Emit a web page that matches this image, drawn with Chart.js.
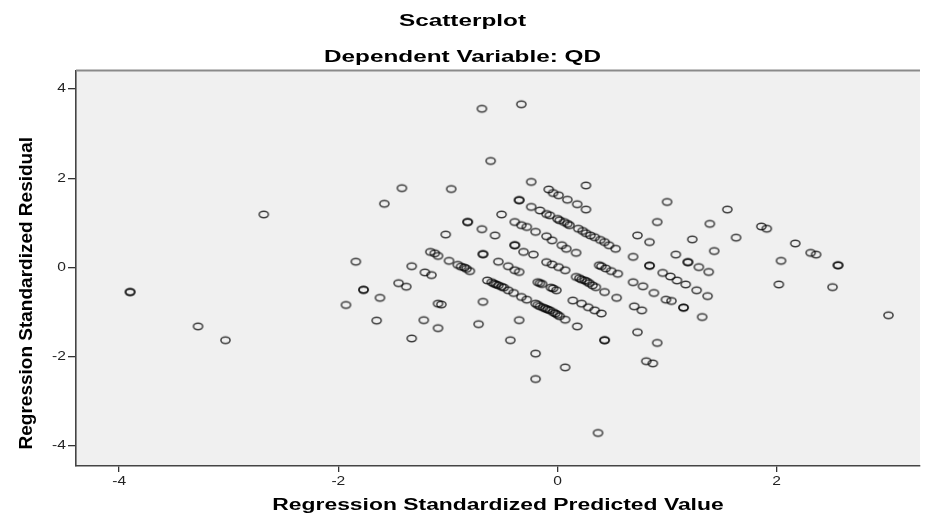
<!DOCTYPE html>
<html>
<head>
<meta charset="utf-8">
<script src="https://cdn.jsdelivr.net/npm/chart.js@4.4.1/dist/chart.umd.min.js"></script>
<style>
html,body{margin:0;padding:0;background:#ffffff;}
canvas{display:block;}
</style>
</head>
<body>
<canvas id="c" width="925" height="514"></canvas>
<script>
// ---- texts ----
const chartTitle = 'Scatterplot';
const chartSubtitle = 'Dependent Variable: QD';
const xAxisTitle = 'Regression Standardized Predicted Value';
const yAxisTitle = 'Regression Standardized Residual';

// ---- tick labels / axis ranges ----
const xTickValues = [-4, -2, 0, 2];
const yTickValues = [-4, -2, 0, 2, 4];
const xRange = [-4.394, 3.308];
const yRange = [-4.45, 4.42];

// ---- data: standardized predicted value (x) and standardized residual (y) ----
const predictedValues = [
  -3.90,-3.90,-3.28,-3.03,-2.68,-1.93,-1.84,-1.77,-1.77,-1.65,-1.62,-1.58,-1.42,
  -1.45,-1.38,-1.33,-1.33,-1.22,-1.21,-1.15,-1.09,-1.06,-1.09,-1.02,-0.97,
  -1.16,-1.12,-1.09,-0.99,-0.91,-0.88,-0.85,-0.83,-0.80,
  -0.82,-0.82,-0.69,-0.33,-0.61,-0.69,-0.57,-0.51,-0.68,-0.68,
  -0.54,-0.45,-0.39,-0.35,-0.31,-0.22,-0.39,-0.39,
  -0.68,-0.72,-0.35,-0.43,-0.20,-0.20,-0.18,
  -0.64,-0.60,-0.58,-0.56,-0.54,-0.51,-0.49,-0.45,-0.40,-0.33,-0.28,-0.20,-0.18,-0.16,-0.13,-0.11,-0.09,-0.07,-0.04,-0.02,0.00,0.02,0.07,
  -0.24,-0.35,-0.35,0.26,
  -0.08,-0.04,0.01,0.09,0.18,0.26,
  -0.24,-0.16,-0.10,-0.07,0.00,0.02,0.06,0.09,0.11,0.19,0.23,0.26,0.30,0.34,0.39,0.43,0.47,0.53,
  -0.39,-0.33,-0.28,-0.20,-0.10,-0.05,0.04,0.08,0.17,
  -0.10,-0.05,0.01,0.07,-0.16,-0.14,-0.06,-0.04,-0.01,
  0.17,0.20,0.22,0.25,0.27,0.29,0.32,0.35,0.43,0.54,
  0.14,0.22,0.28,0.34,0.40,0.18,0.07,0.37,0.43,0.43,
  0.38,0.40,0.44,0.49,0.55,0.69,0.84,0.84,
  0.73,0.84,0.91,1.00,0.69,0.78,0.88,0.70,0.77,
  0.73,0.91,0.81,0.87,0.96,1.03,1.09,1.17,0.99,1.04,
  1.15,1.15,1.08,1.19,1.19,1.29,1.38,1.43,1.23,1.39,
  1.27,1.37,1.32,1.55,1.63,1.86,1.91,2.17,2.04,
  2.31,2.36,2.56,2.56,2.02,2.51,3.02
];
const residualValues = [
  -0.55,-0.55,-1.32,-1.63,1.19,-0.84,0.13,-0.50,-0.50,-1.19,-0.68,1.43,1.78,
  -0.35,-0.43,0.03,-1.59,-1.18,-0.11,-0.17,-0.81,-0.83,-1.36,0.74,1.76,
  0.35,0.32,0.26,0.15,0.06,0.02,0.00,-0.03,-0.08,
  1.02,1.02,3.56,3.66,2.39,0.86,0.72,1.19,0.30,0.30,
  0.13,0.03,-0.06,-0.10,0.35,0.29,0.50,0.50,
  -0.77,-1.27,-1.18,-1.63,-1.93,-2.50,-0.33,
  -0.29,-0.33,-0.36,-0.38,-0.40,-0.43,-0.45,-0.51,-0.57,-0.66,-0.72,-0.81,-0.84,-0.87,-0.90,-0.92,-0.94,-0.96,-1.00,-1.03,-1.06,-1.09,-1.17,
  1.92,1.51,1.51,1.84,
  1.75,1.67,1.62,1.52,1.42,1.30,
  1.36,1.28,1.20,1.17,1.09,1.06,1.02,0.98,0.95,0.87,0.82,0.77,0.72,0.68,0.62,0.57,0.50,0.42,
  1.02,0.95,0.91,0.80,0.70,0.61,0.50,0.42,0.33,
  0.12,0.07,0.01,-0.06,-0.35,-0.37,-0.45,-0.47,-0.51,
  -0.21,-0.24,-0.27,-0.29,-0.32,-0.35,-0.40,-0.44,-0.55,-0.68,
  -0.74,-0.81,-0.89,-0.96,-1.03,-1.32,-2.24,-3.71,-1.63,-1.63,
  0.05,0.03,-0.02,-0.08,-0.14,0.24,0.04,0.04,
  0.72,0.57,1.02,1.47,-0.33,-0.42,-0.57,-0.87,-0.96,
  -1.45,-1.69,-2.10,-2.15,-0.12,-0.20,-0.29,-0.38,-0.72,-0.75,
  -0.90,-0.90,0.29,0.12,0.12,0.01,-0.10,0.37,0.63,0.98,
  -0.51,-0.64,-1.11,1.30,0.67,0.92,0.87,0.54,0.15,
  0.33,0.29,0.05,0.05,-0.38,-0.44,-1.07
];

// ---- styling ----
const FONT = "'Liberation Sans', Arial, Helvetica, sans-serif";

function makeMarker() {
  const c = document.createElement('canvas');
  c.width = 15; c.height = 11;
  const g = c.getContext('2d');
  g.strokeStyle = 'rgba(0,0,0,0.75)';
  g.lineWidth = 1.5;
  g.beginPath();
  g.ellipse(7.5, 5.5, 4.6, 3.2, 0, 0, Math.PI * 2);
  g.stroke();
  return c;
}

// The reference picture is horizontally stretched: reproduce that on the text glyphs.
function stretchFor(text) {
  if (text === chartTitle || text === chartSubtitle || text === xAxisTitle) return 1.43;
  return 1.3;
}

const textStretchPlugin = {
  id: 'textStretch',
  beforeInit(chart) {
    const ctx = chart.ctx;
    const base = CanvasRenderingContext2D.prototype.fillText;
    ctx.fillText = function (text, x, y) {
      this.save();
      if (text === yAxisTitle) {
        this.translate(x - 25, y);
        this.scale(1, 0.93);
      } else {
        this.translate(x, y);
        this.scale(stretchFor(text), 1);
      }
      base.call(this, text, 0, 0);
      this.restore();
    };
  }
};

const plotFrame = {
  id: 'plotFrame',
  beforeDraw(chart) {
    const { ctx, chartArea: a } = chart;
    ctx.save();
    ctx.fillStyle = '#f0f0f0';
    ctx.fillRect(a.left, a.top, a.right - a.left, a.bottom - a.top);
    ctx.restore();
  },
  afterDraw(chart) {
    const { ctx, chartArea: a } = chart;
    ctx.save();
    ctx.strokeStyle = '#8a8a8a';
    ctx.lineWidth = 2;
    ctx.beginPath();
    ctx.moveTo(a.left, a.top);
    ctx.lineTo(a.right, a.top);
    ctx.stroke();
    ctx.restore();
  }
};

const points = predictedValues.map((x, i) => ({ x: x, y: residualValues[i] }));

new Chart(document.getElementById('c'), {
  type: 'scatter',
  data: {
    datasets: [{
      data: points,
      pointStyle: makeMarker(),
      pointRadius: 5,
      borderWidth: 0
    }]
  },
  options: {
    responsive: false,
    animation: false,
    events: [],
    layout: { padding: { left: 0, right: 0, top: 0, bottom: 0 } },
    plugins: {
      legend: { display: false },
      tooltip: { enabled: false },
      title: {
        display: true,
        text: chartTitle,
        color: '#000',
        font: { family: FONT, size: 17, weight: 'bold', lineHeight: 1.2 },
        padding: { top: 11, bottom: 8 }
      },
      subtitle: {
        display: true,
        text: chartSubtitle,
        color: '#000',
        font: { family: FONT, size: 17, weight: 'bold', lineHeight: 1.2 },
        padding: { top: 8, bottom: 2.6 }
      }
    },
    scales: {
      x: {
        type: 'linear',
        position: 'bottom',
        min: xRange[0],
        max: xRange[1],
        afterBuildTicks: (axis) => { axis.ticks = xTickValues.map(v => ({ value: v })); },
        ticks: {
          includeBounds: false,
          color: '#222',
          font: { family: FONT, size: 12, lineHeight: 1.2 },
          padding: 2,
          callback: (v) => String(v)
        },
        grid: { drawOnChartArea: false, drawTicks: true, tickLength: 6, color: '#333', lineWidth: 1.3 },
        border: { display: true, color: '#444', width: 1.6 },
        title: {
          display: true,
          text: xAxisTitle,
          color: '#000',
          font: { family: FONT, size: 16, weight: 'bold', lineHeight: 1 },
          padding: { top: 7.6, bottom: 0 }
        }
      },
      y: {
        type: 'linear',
        position: 'left',
        min: yRange[0],
        max: yRange[1],
        afterBuildTicks: (axis) => { axis.ticks = yTickValues.map(v => ({ value: v })); },
        ticks: {
          includeBounds: false,
          color: '#222',
          font: { family: FONT, size: 12, lineHeight: 1.2 },
          padding: 2,
          callback: (v) => String(v)
        },
        grid: { drawOnChartArea: false, drawTicks: true, tickLength: 8, color: '#333', lineWidth: 1.3 },
        border: { display: true, color: '#444', width: 1.6 },
        title: {
          display: true,
          text: yAxisTitle,
          color: '#000',
          font: { family: FONT, size: 19, weight: 'bold', lineHeight: 1.2 },
          padding: { top: 15.6, bottom: 14.9 }
        }
      }
    }
  },
  plugins: [textStretchPlugin, plotFrame]
});
</script>
</body>
</html>
